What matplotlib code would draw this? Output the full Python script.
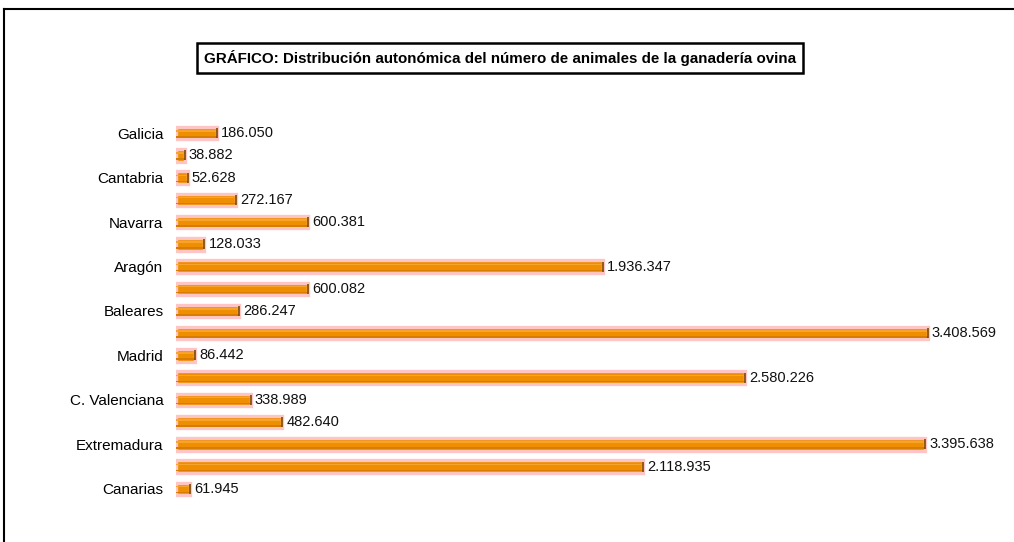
import matplotlib.pyplot as plt
from matplotlib.lines import Line2D
import numpy as np

plt.rcParams['font.family'] = ['Liberation Sans', 'DejaVu Sans']

# Comunidades autónomas (sólo se rotulan una de cada dos, como en el original)
REGIONS = ["Galicia", "Asturias", "Cantabria", "País Vasco", "Navarra", "La Rioja",
           "Aragón", "Cataluña", "Baleares", "Castilla y León", "Madrid",
           "Castilla-La Mancha", "C. Valenciana", "Murcia", "Extremadura",
           "Andalucía", "Canarias"]
SHEEP = [186050, 38882, 52628, 272167, 600381, 128033, 1936347, 600082, 286247,
         3408569, 86442, 2580226, 338989, 482640, 3395638, 2118935, 61945]
TITLE = "GRÁFICO: Distribución autonómica del número de animales de la ganadería ovina"

fig = plt.figure(figsize=(10.14, 5.42), dpi=100)
ax = fig.add_axes([0.1736, 0.0775, 0.7764, 0.6974])

y = np.arange(len(REGIONS))
vals = np.array(SHEEP)

# barras "cilíndricas": halo rosa, cuerpo, brillo superior, sombra inferior y tapa
ax.barh(y, vals, height=0.56, color="#EF8E00", edgecolor="#FFC4C4", linewidth=2.4, zorder=2)
ax.barh(y - 0.1, vals, height=0.07, color="#F6A42A", linewidth=0, zorder=3)
ax.barh(y + 0.17, vals, height=0.07, color="#D67D00", linewidth=0, zorder=3)
ax.scatter(vals, y, marker="|", s=60, color="#7A4A00", linewidths=1.2, zorder=4)

for yi, v in zip(y, vals):
    ax.annotate(f"{v:,}".replace(",", "."), xy=(v, yi), xytext=(3, 0),
                textcoords="offset points", ha="left", va="center", fontsize=10.5,
                color="#111111", zorder=5)

ax.set_xlim(0, 3.57e6)
ax.set_ylim(len(REGIONS) - 0.5, -0.5)
ax.set_yticks(y[::2])
ax.set_yticklabels(REGIONS[::2], fontsize=11)
ax.tick_params(axis="y", length=0, pad=9)
ax.set_xticks([])
for s in ax.spines.values():
    s.set_visible(False)

fig.text(0.493, 0.893, TITLE, ha="center", va="center", fontsize=10.9, fontweight="bold",
         bbox=dict(boxstyle="square,pad=0.45", facecolor="white", edgecolor="black", linewidth=1.8))

# marco exterior (sólo arriba y a la izquierda visibles)
fig.add_artist(Line2D([0.0035, 1.0], [0.984, 0.984], color="black", linewidth=1.5,
                      transform=fig.transFigure))
fig.add_artist(Line2D([0.0035, 0.0035], [0.0, 0.984], color="black", linewidth=1.5,
                      transform=fig.transFigure))

fig.savefig("out.png", dpi=100)
